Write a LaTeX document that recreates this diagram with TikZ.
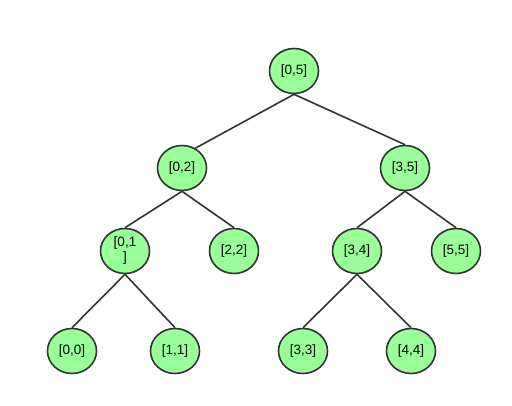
\documentclass[tikz,border=0pt]{standalone}
\usepackage{xcolor}
\usepackage{fontspec}
\setmainfont{Liberation Sans}
\usetikzlibrary{shapes.geometric}
\definecolor{NodeFill}{HTML}{99FF99}
\definecolor{Ink}{HTML}{333333}

\begin{document}
\begin{tikzpicture}[
    x=1pt, y=1pt,
    font=\fontsize{13.5}{15}\selectfont,
    interval/.style={ellipse, draw=Ink, line width=1.6pt, fill=NodeFill, minimum width=49pt, minimum height=45pt, inner sep=0pt, align=center},
    link/.style={draw=Ink, line width=1.6pt}
  ]
    \useasboundingbox (0,0) rectangle (512,405);
    \node[interval] (n05) at (294,334) {[0,5]};
    \node[interval] (n02) at (182,237) {[0,2]};
    \node[interval] (n35) at (405,237) {[3,5]};
    \node[interval] (n01) at (125,154) {[0,1\\]};
    \node[interval] (n22) at (234,154) {[2,2]};
    \node[interval] (n34) at (357,154) {[3,4]};
    \node[interval] (n55) at (456,154) {[5,5]};
    \node[interval] (n00) at (72,54) {[0,0]};
    \node[interval] (n11) at (175,54) {[1,1]};
    \node[interval] (n33) at (303,54) {[3,3]};
    \node[interval] (n44) at (411,54) {[4,4]};

    \draw[link] (n05.south) -- (n02.56);
    \draw[link] (n05.south) -- (n35.north);
    \draw[link] (n02.south) -- (n01.north);
    \draw[link] (n02.south) -- (n22.north);
    \draw[link] (n35.south) -- (n34.north);
    \draw[link] (n35.south) -- (n55.north);
    \draw[link] (n01.south) -- (n00.north);
    \draw[link] (n01.south) -- (n11.north);
    \draw[link] (n34.south) -- (n33.north);
    \draw[link] (n34.south) -- (n44.north);
  \end{tikzpicture}
\end{document}
